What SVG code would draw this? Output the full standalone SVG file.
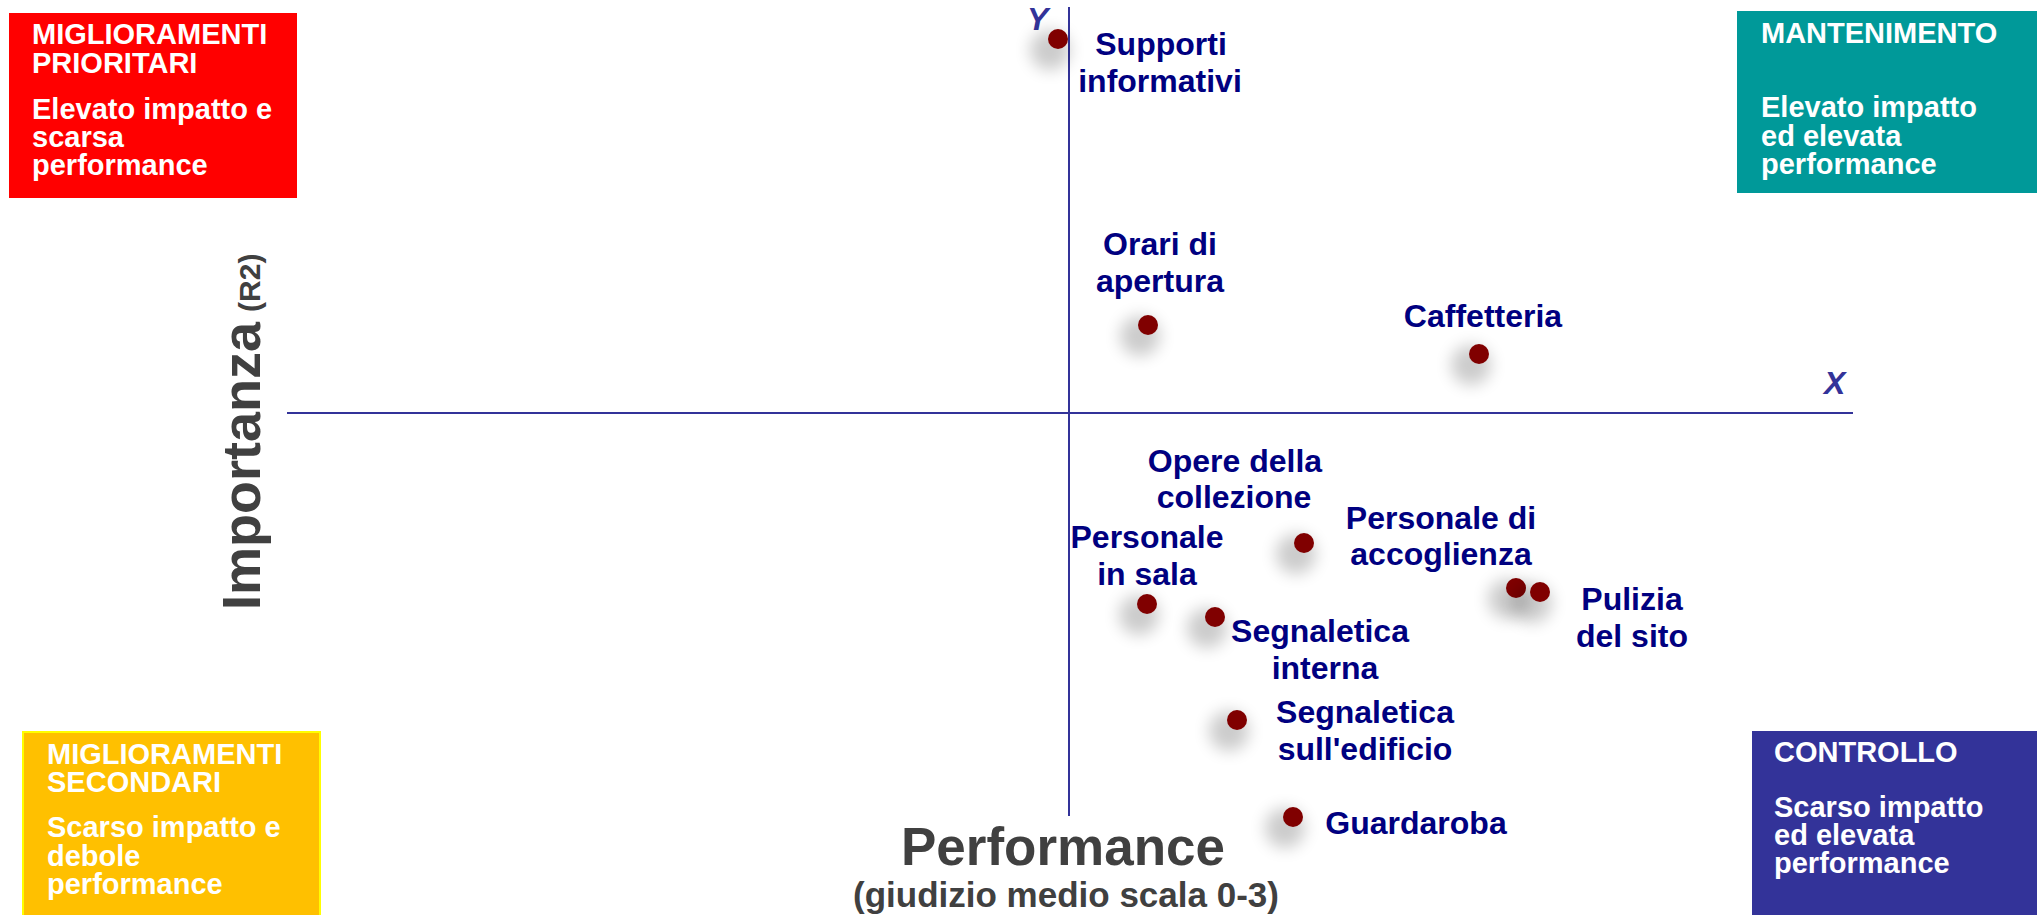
<svg xmlns="http://www.w3.org/2000/svg" width="2037" height="915" viewBox="0 0 2037 915">
<style>
.bx{font-family:"Liberation Sans",Arial,sans-serif;font-weight:bold;font-size:29px;fill:#ffffff}
.lb{font-family:"Liberation Sans",Arial,sans-serif;font-weight:bold;font-size:32px;fill:#000080;text-anchor:middle}
.ax{stroke:#333399;stroke-width:2;fill:none}
.axl{font-family:"Liberation Sans",Arial,sans-serif;font-weight:bold;font-style:italic;font-size:32px;fill:#333399}
.ttl{font-family:"Liberation Sans",Arial,sans-serif;font-weight:bold;fill:#404040}
.dot{fill:#800000}
.sh{fill:#000000;opacity:0.2;filter:url(#blur)}
</style>
<defs>
<filter id="blur" x="-100%" y="-100%" width="300%" height="300%"><feGaussianBlur stdDeviation="8"/></filter>
</defs>
<rect width="2037" height="915" fill="#ffffff"/>

<g id="box-prioritari">
<rect x="9" y="13" width="288" height="185" fill="#FF0000"/>
<text class="bx"><tspan x="32" y="44">MIGLIORAMENTI</tspan><tspan x="32" y="73">PRIORITARI</tspan><tspan x="32" y="119">Elevato impatto e</tspan><tspan x="32" y="147">scarsa</tspan><tspan x="32" y="175">performance</tspan></text>
</g>
<g id="box-mantenimento">
<rect x="1737" y="11" width="310" height="182" fill="#009999"/>
<text class="bx"><tspan x="1761" y="43">MANTENIMENTO</tspan><tspan x="1761" y="117">Elevato impatto</tspan><tspan x="1761" y="146">ed elevata</tspan><tspan x="1761" y="174">performance</tspan></text>
</g>
<g id="box-secondari">
<rect x="23" y="732" width="297" height="200" fill="#FFC000" stroke="#FFFF00" stroke-width="2"/>
<text class="bx"><tspan x="47" y="764">MIGLIORAMENTI</tspan><tspan x="47" y="792">SECONDARI</tspan><tspan x="47" y="837">Scarso impatto e</tspan><tspan x="47" y="866">debole</tspan><tspan x="47" y="894">performance</tspan></text>
</g>
<g id="box-controllo">
<rect x="1752" y="731" width="300" height="200" fill="#333399"/>
<text class="bx"><tspan x="1774" y="762">CONTROLLO</tspan><tspan x="1774" y="817">Scarso impatto</tspan><tspan x="1774" y="845">ed elevata</tspan><tspan x="1774" y="873">performance</tspan></text>
</g>

<g id="axes">
<line class="ax" x1="1069" y1="7" x2="1069" y2="816"/>
<line class="ax" x1="287" y1="413" x2="1853" y2="413"/>
<text class="axl" x="1027" y="30">Y</text>
<text class="axl" x="1824" y="394">X</text>
</g>

<g id="axis-titles">
<text class="ttl" transform="translate(260,610) rotate(-90)" font-size="54">Importanza<tspan font-size="30" dx="10">(R2)</tspan></text>
<text class="ttl" x="1063" y="865" font-size="53" text-anchor="middle">Performance</text>
<text class="ttl" x="1066" y="907" font-size="35" text-anchor="middle">(giudizio medio scala 0-3)</text>
</g>

<g id="n-supporti">
<circle class="sh" cx="1050" cy="50" r="20"/><circle class="dot" cx="1058" cy="39" r="10"/>
<text class="lb"><tspan x="1161" y="55">Supporti</tspan><tspan x="1160" y="92">informativi</tspan></text>
</g>
<g id="n-orari">
<circle class="sh" cx="1140" cy="336" r="20"/><circle class="dot" cx="1148" cy="325" r="10"/>
<text class="lb"><tspan x="1160" y="255">Orari di</tspan><tspan x="1160" y="292">apertura</tspan></text>
</g>
<g id="n-caffetteria">
<circle class="sh" cx="1471" cy="365" r="20"/><circle class="dot" cx="1479" cy="354" r="10"/>
<text class="lb" x="1483" y="327">Caffetteria</text>
</g>
<g id="n-opere">
<circle class="sh" cx="1296" cy="554" r="20"/><circle class="dot" cx="1304" cy="543" r="10"/>
<text class="lb"><tspan x="1235" y="472">Opere della</tspan><tspan x="1234" y="508">collezione</tspan></text>
</g>
<g id="n-personale-sala">
<circle class="sh" cx="1139" cy="615" r="20"/><circle class="dot" cx="1147" cy="604" r="10"/>
<text class="lb"><tspan x="1147" y="548">Personale</tspan><tspan x="1147" y="585">in sala</tspan></text>
</g>
<g id="n-segnaletica-interna">
<circle class="sh" cx="1207" cy="628" r="20"/><circle class="dot" cx="1215" cy="617" r="10"/>
<text class="lb"><tspan x="1320" y="642">Segnaletica</tspan><tspan x="1325" y="679">interna</tspan></text>
</g>
<g id="n-personale-accoglienza">
<circle class="sh" cx="1508" cy="599" r="20"/><circle class="dot" cx="1516" cy="588" r="10"/>
<text class="lb"><tspan x="1441" y="529">Personale di</tspan><tspan x="1441" y="565">accoglienza</tspan></text>
</g>
<g id="n-pulizia">
<circle class="sh" cx="1532" cy="603" r="20"/><circle class="dot" cx="1540" cy="592" r="10"/>
<text class="lb"><tspan x="1632" y="610">Pulizia</tspan><tspan x="1632" y="647">del sito</tspan></text>
</g>
<g id="n-segnaletica-edificio">
<circle class="sh" cx="1229" cy="731" r="20"/><circle class="dot" cx="1237" cy="720" r="10"/>
<text class="lb"><tspan x="1365" y="723">Segnaletica</tspan><tspan x="1365" y="760">sull'edificio</tspan></text>
</g>
<g id="n-guardaroba">
<circle class="sh" cx="1285" cy="828" r="20"/><circle class="dot" cx="1293" cy="817" r="10"/>
<text class="lb" x="1416" y="834">Guardaroba</text>
</g>
</svg>
